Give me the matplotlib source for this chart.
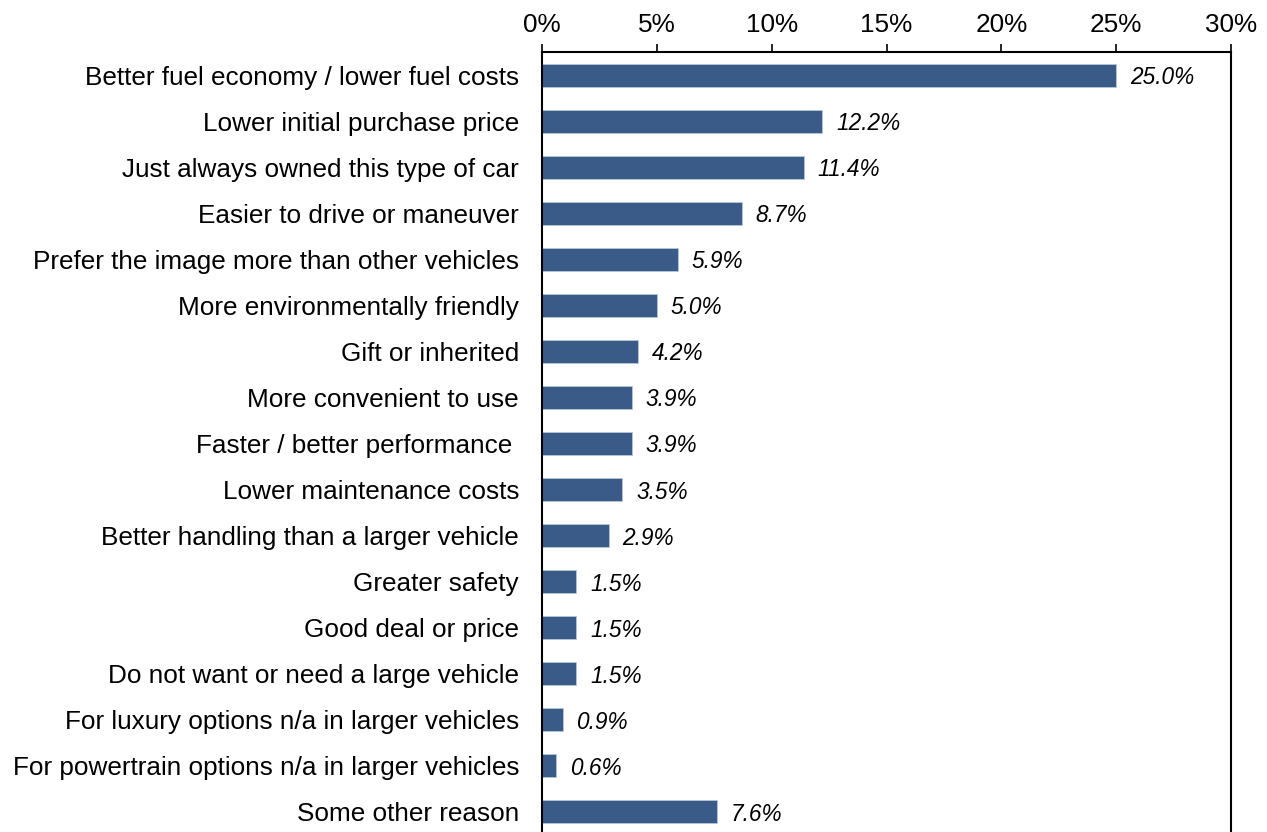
import matplotlib
matplotlib.use("Agg")
import matplotlib.pyplot as plt
from matplotlib.ticker import FuncFormatter

plt.rcParams['font.family'] = ['Liberation Sans', 'DejaVu Sans']

# Reasons for choosing a smaller vehicle, share of respondents (%)
reasons = [
    "Better fuel economy / lower fuel costs",
    "Lower initial purchase price",
    "Just always owned this type of car",
    "Easier to drive or maneuver",
    "Prefer the image more than other vehicles",
    "More environmentally friendly",
    "Gift or inherited",
    "More convenient to use",
    "Faster / better performance ",
    "Lower maintenance costs",
    "Better handling than a larger vehicle",
    "Greater safety",
    "Good deal or price",
    "Do not want or need a large vehicle",
    "For luxury options n/a in larger vehicles",
    "For powertrain options n/a in larger vehicles",
    "Some other reason",
]
shares = [25.0, 12.2, 11.4, 8.7, 5.9, 5.0, 4.2, 3.9, 3.9, 3.5, 2.9, 1.5, 1.5, 1.5, 0.9, 0.6, 7.6]
x_ticks = [0, 5, 10, 15, 20, 25, 30]

BAR_COLOR = "#3a5a88"

fig = plt.figure(figsize=(12.67, 8.32), dpi=100)
ax = fig.add_axes([0.4278, -0.0036, 0.5438, 0.9411])

pos = list(range(len(reasons)))
ax.barh(pos, shares, height=0.5, color=BAR_COLOR, edgecolor="#b8c6da", linewidth=0.6)

for y, v in zip(pos, shares):
    ax.text(v + 0.6, y, f"{v:.1f}%", va="center_baseline", ha="left",
            fontsize=16.3, style="italic", color="black")

ax.set_xlim(0, 30)
ax.set_ylim(len(reasons) - 0.5, -0.5)
ax.set_yticks(pos)
ax.set_yticklabels(reasons, fontsize=18.8)
ax.tick_params(axis="y", length=0, pad=16.5)

ax.xaxis.tick_top()
ax.set_xticks(x_ticks)
ax.xaxis.set_major_formatter(FuncFormatter(lambda v, p: f"{v:.0f}%"))
ax.tick_params(axis="x", direction="out", length=6, width=1.2, labelsize=18.8, pad=5)

ax.spines["bottom"].set_visible(False)
for side in ("top", "left", "right"):
    ax.spines[side].set_linewidth(1.5)

fig.savefig("out.png", dpi=100)
